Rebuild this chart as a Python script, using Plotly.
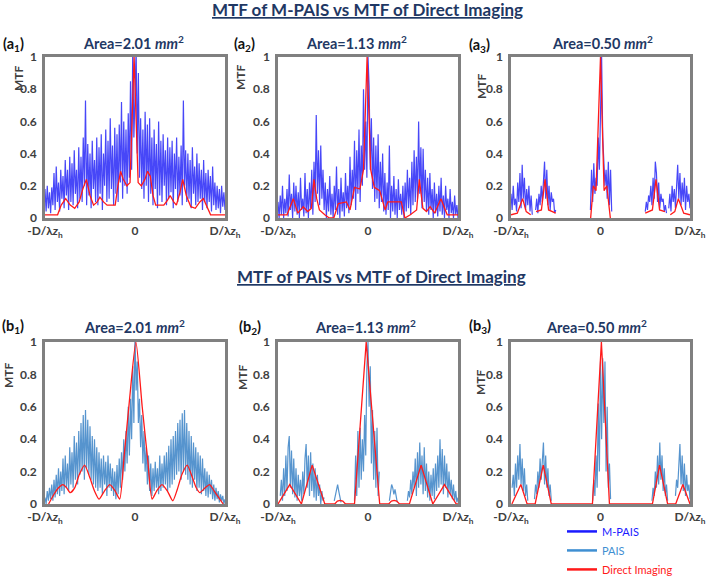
import numpy as np
import plotly.graph_objects as go

N = None

# common frequency grid for the noisy MTF curves (-D/λz_h ... D/λz_h normalised to -1..1)
freq = np.linspace(-1, 1, 161)

# ---------------- Row (a): M-PAIS ----------------
mpais_a1 = [
    0.18, 0.04, 0.2, 0.06, 0.16, 0.03, 0.19, 0.08,
    0.28, 0.05, 0.32, 0.1, 0.22, 0.04, 0.3, 0.12,
    0.26, 0.06, 0.36, 0.14, 0.3, 0.05, 0.38, 0.1,
    0.34, 0.08, 0.42, 0.15, 0.3, 0.06, 0.44, 0.12,
    0.38, 0.1, 0.5, 0.2, 0.73, 0.08, 0.46, 0.14,
    0.4, 0.06, 0.48, 0.18, 0.36, 0.1, 0.5, 0.08,
    0.44, 0.15, 0.52, 0.05, 0.4, 0.2, 0.55, 0.1,
    0.48, 0.12, 0.62, 0.18, 0.45, 0.08, 0.56, 0.15,
    0.52, 0.1, 0.58, 0.22, 0.72, 0.12, 0.6, 0.2,
    0.55, 0.15, 0.65, 0.25, 0.85, 0.3, 1.05, 0.5,
    0.75,
    1.05, 0.4, 0.9, 0.25, 0.62, 0.18, 0.55, 0.12,
    0.66, 0.2, 0.58, 0.1, 0.62, 0.15, 0.5, 0.08,
    0.55, 0.18, 0.46, 0.06, 0.6, 0.14, 0.48, 0.1,
    0.52, 0.2, 0.42, 0.08, 0.5, 0.12, 0.44, 0.16,
    0.48, 0.06, 0.4, 0.18, 0.5, 0.1, 0.38, 0.14,
    0.45, 0.08, 0.73, 0.2, 0.42, 0.1, 0.4, 0.12,
    0.36, 0.06, 0.44, 0.15, 0.32, 0.08, 0.4, 0.1,
    0.34, 0.12, 0.3, 0.05, 0.36, 0.1, 0.28, 0.06,
    0.3, 0.1, 0.26, 0.04, 0.32, 0.08, 0.22, 0.05,
    0.2, 0.06, 0.18, 0.03, 0.2, 0.07, 0.16, 0.05,
]

mpais_a2 = [
    0.1, 0.0, 0.14, 0.02, 0.2, 0.0, 0.12, 0.03,
    0.18, 0.01, 0.27, 0.05, 0.15, 0.0, 0.22, 0.04,
    0.2, 0.02, 0.16, 0.0, 0.25, 0.05, 0.12, 0.01,
    0.28, 0.03, 0.18, 0.0, 0.22, 0.06, 0.3, 0.02,
    0.35, 0.1, 0.64, 0.15, 0.42, 0.08, 0.45, 0.12,
    0.3, 0.05, 0.22, 0.0, 0.18, 0.04, 0.26, 0.02,
    0.15, 0.0, 0.2, 0.05, 0.32, 0.02, 0.18, 0.0,
    0.25, 0.04, 0.16, 0.01, 0.28, 0.06, 0.2, 0.03,
    0.38, 0.08, 0.3, 0.12, 0.48, 0.05, 0.42, 0.15,
    0.55, 0.1, 0.45, 0.2, 0.8, 0.3, 0.6, 0.25,
    1.0,
    0.82, 0.3, 0.62, 0.18, 0.5, 0.1, 0.45, 0.12,
    0.52, 0.06, 0.35, 0.1, 0.4, 0.04, 0.28, 0.02,
    0.22, 0.05, 0.45, 0.0, 0.2, 0.04, 0.26, 0.02,
    0.18, 0.0, 0.24, 0.05, 0.15, 0.02, 0.2, 0.0,
    0.22, 0.04, 0.3, 0.06, 0.25, 0.02, 0.35, 0.08,
    0.42, 0.1, 0.38, 0.12, 0.6, 0.15, 0.44, 0.06,
    0.43, 0.1, 0.3, 0.04, 0.25, 0.02, 0.28, 0.05,
    0.18, 0.0, 0.22, 0.03, 0.15, 0.01, 0.2, 0.04,
    0.25, 0.02, 0.14, 0.0, 0.2, 0.05, 0.12, 0.0,
    0.18, 0.03, 0.1, 0.0, 0.14, 0.02, 0.08, 0.0,
]

mpais_a3 = (
    [0.15, 0.05, 0.2, 0.08, 0.12, 0.04, 0.22, 0.1, 0.28, 0.06,
     0.33, 0.12, 0.25, 0.05, 0.18, 0.08, 0.2, 0.04, 0.14, 0.02]
    + [N] * 2
    + [0.05, 0.12, 0.03, 0.15, 0.08, 0.2, 0.1, 0.28, 0.35, 0.12,
       0.3, 0.08, 0.2, 0.05, 0.16, 0.1, 0.12, 0.03, 0.05]
    + [N] * 30
    + [0.05, 0.3, 0.1, 0.34, 0.15, 0.25, 0.2, 0.5, 0.3, 0.8,
       1.0, 0.5, 0.35, 0.2, 0.3, 0.12, 0.35, 0.08, 0.3, 0.04]
    + [N] * 29
    + [0.04, 0.1, 0.05, 0.14, 0.1, 0.2, 0.08, 0.25, 0.12, 0.35,
       0.28, 0.1, 0.22, 0.06, 0.15, 0.1, 0.12, 0.04, 0.08, 0.03]
    + [N] * 1
    + [0.06, 0.15, 0.04, 0.2, 0.1, 0.18, 0.06, 0.25, 0.33, 0.12,
       0.28, 0.08, 0.22, 0.1, 0.25, 0.05, 0.2, 0.1, 0.15, 0.06]
)

# ---------------- Row (b): PAIS ----------------
pais_b1 = [
    0.04, 0.0, 0.08, 0.02, 0.1, 0.03, 0.12, 0.02,
    0.15, 0.04, 0.18, 0.06, 0.22, 0.05, 0.2, 0.08,
    0.28, 0.06, 0.3, 0.1, 0.25, 0.08, 0.35, 0.12,
    0.32, 0.1, 0.42, 0.15, 0.38, 0.12, 0.45, 0.18,
    0.5, 0.2, 0.55, 0.15, 0.58, 0.22, 0.52, 0.18,
    0.48, 0.15, 0.42, 0.12, 0.4, 0.1, 0.35, 0.08,
    0.32, 0.1, 0.28, 0.06, 0.3, 0.12, 0.26, 0.05,
    0.3, 0.1, 0.25, 0.08, 0.22, 0.05, 0.2, 0.03,
    0.24, 0.06, 0.28, 0.1, 0.32, 0.15, 0.4, 0.2,
    0.45, 0.25, 0.6, 0.3, 0.65, 0.4, 0.85, 0.5,
    1.05,
    0.7, 0.88, 0.5, 0.65, 0.35, 0.55, 0.25, 0.45,
    0.2, 0.35, 0.12, 0.3, 0.08, 0.25, 0.05, 0.22,
    0.08, 0.26, 0.1, 0.22, 0.06, 0.3, 0.08, 0.25,
    0.1, 0.3, 0.12, 0.32, 0.08, 0.36, 0.1, 0.4,
    0.12, 0.42, 0.15, 0.45, 0.18, 0.5, 0.2, 0.52,
    0.15, 0.56, 0.2, 0.58, 0.18, 0.5, 0.15, 0.45,
    0.12, 0.42, 0.1, 0.38, 0.15, 0.35, 0.08, 0.32,
    0.1, 0.3, 0.06, 0.28, 0.08, 0.22, 0.05, 0.2,
    0.04, 0.18, 0.06, 0.15, 0.03, 0.12, 0.02, 0.1,
    0.03, 0.08, 0.01, 0.06, 0.02, 0.05, 0.0, 0.03,
]

pais_b2 = (
    [N] * 2
    + [0.05, 0.15, 0.02, 0.22, 0.05, 0.3, 0.08, 0.35, 0.42, 0.1,
       0.33, 0.06, 0.28, 0.04, 0.22, 0.02, 0.18, 0.05, 0.15, 0.02,
       0.2, 0.06, 0.28, 0.37, 0.1, 0.3, 0.05, 0.32, 0.08, 0.25,
       0.04, 0.22, 0.02, 0.18, 0.05, 0.12, 0.0, 0.08, 0.02, 0.04]
    + [N] * 8
    + [0.02, 0.06, 0.1, 0.12, 0.08, 0.05, 0.01]
    + [N] * 11
    + [0.02, 0.3, 0.05, 0.45, 0.1, 0.47, 0.15, 0.4, 0.2, 0.55,
       0.3, 0.85, 1.0, 0.6, 0.85, 0.25, 0.58, 0.15, 0.45, 0.1,
       0.47, 0.05, 0.2]
    + [N] * 8
    + [0.02, 0.08, 0.12, 0.1, 0.06, 0.09, 0.04, 0.01]
    + [N] * 8
    + [0.02, 0.08, 0.04, 0.15, 0.06, 0.2, 0.1, 0.28, 0.05, 0.32,
       0.1, 0.38, 0.12, 0.3, 0.06, 0.35, 0.08, 0.25, 0.04, 0.2,
       0.02, 0.18, 0.05, 0.22, 0.03, 0.25, 0.08, 0.3, 0.1, 0.4,
       0.12, 0.34, 0.06, 0.3, 0.1, 0.25, 0.04, 0.2, 0.06, 0.15,
       0.03, 0.12, 0.02, 0.08, 0.01, 0.04]
)

pais_b3 = (
    [N] * 1
    + [0.1, 0.18, 0.05, 0.25, 0.1, 0.3, 0.15, 0.37, 0.12, 0.28,
       0.08, 0.22, 0.05, 0.12, 0.02]
    + [N] * 5
    + [0.03, 0.12, 0.06, 0.2, 0.1, 0.28, 0.15, 0.32, 0.38, 0.12,
       0.3, 0.1, 0.22, 0.05, 0.12, 0.02]
    + [N] * 36
    + [0.02, 0.15, 0.05, 0.3, 0.1, 0.62, 0.2, 0.88, 0.4, 0.9,
       0.5, 0.88, 0.2, 0.6, 0.1, 0.25, 0.03]
    + [N] * 36
    + [0.02, 0.1, 0.05, 0.2, 0.1, 0.3, 0.12, 0.38, 0.15, 0.3,
       0.08, 0.22, 0.05, 0.12, 0.02]
    + [N] * 6
    + [0.05, 0.15, 0.1, 0.25, 0.37, 0.12, 0.3, 0.08, 0.25, 0.05,
       0.18, 0.08, 0.12, 0.03]
)

# ---------------- Direct imaging (red) ----------------
di_a1_x = [-1, -0.86, -0.82, -0.77, -0.72, -0.67, -0.62, -0.58, -0.54, -0.5,
           -0.46, -0.42, -0.39, -0.35, -0.31, -0.22, -0.19, -0.16, -0.13, -0.09,
           -0.055, -0.01, 0.035, 0.07, 0.11, 0.14, 0.17, 0.2, 0.23, 0.32,
           0.36, 0.39, 0.43, 0.46, 0.5, 0.53, 0.57, 0.62, 0.67, 0.72,
           0.76, 0.8, 0.84, 1]
di_a1_y = [0.02, 0.02, 0.08, 0.12, 0.08, 0.06, 0.1, 0.18, 0.24, 0.14,
           0.08, 0.1, 0.13, 0.1, 0.08, 0.08, 0.2, 0.29, 0.24, 0.2,
           0.22, 1.0, 0.22, 0.2, 0.24, 0.29, 0.26, 0.14, 0.08, 0.08,
           0.11, 0.14, 0.1, 0.08, 0.16, 0.24, 0.14, 0.07, 0.06, 0.1,
           0.12, 0.07, 0.02, 0.02]

di_a2_x = [-1, -0.9, -0.83, -0.78, -0.72, -0.67, -0.63, -0.6, -0.57, -0.54,
           -0.48, -0.43, -0.38, -0.33, -0.24, -0.2, -0.15, -0.09, -0.05, -0.01,
           0.03, 0.07, 0.13, 0.19, 0.22, 0.37, 0.41, 0.47, 0.54, 0.57,
           0.61, 0.65, 0.69, 0.74, 0.81, 0.88, 1]
di_a2_y = [0.02, 0.02, 0.12, 0.03, 0.07, 0.04, 0.06, 0.24, 0.12, 0.05,
           0.02, 0.0, 0.0, 0.09, 0.1, 0.05, 0.19, 0.18, 0.3, 1.0,
           0.3, 0.19, 0.17, 0.05, 0.1, 0.1, 0.0, 0.02, 0.05, 0.24,
           0.06, 0.04, 0.07, 0.03, 0.12, 0.02, 0.02]

di_a3_x = [-1, -0.93, -0.87, -0.83, -0.78, -0.745, -0.72, -0.66, -0.62, -0.58, -0.5,
           -0.3, -0.11, -0.08, -0.05, 0.0, 0.04, 0.07, 0.11,
           0.3, 0.5, 0.58, 0.62, 0.66, 0.72, 0.745, 0.78, 0.83, 0.87, 0.93, 1]
di_a3_y = [0.02, 0.03, 0.12, 0.04, 0.02, N, 0.04, 0.05, 0.24, 0.05, 0.03,
           N, 0.0, 0.2, 0.17, 1.0, 0.17, 0.2, 0.0,
           N, 0.03, 0.05, 0.24, 0.05, 0.04, N, 0.02, 0.04, 0.12, 0.03, 0.02]

di_b1_x = [-0.96, -0.9, -0.85, -0.8, -0.76, -0.72, -0.67, -0.62, -0.56, -0.5,
           -0.45, -0.4, -0.34, -0.28, -0.22, -0.17, -0.12, -0.06, 0.01, 0.08,
           0.14, 0.19, 0.24, 0.3, 0.36, 0.42, 0.47, 0.52, 0.58, 0.64,
           0.68, 0.72, 0.78, 0.83, 0.88, 0.93, 0.98]
di_b1_y = [0.0, 0.06, 0.1, 0.12, 0.1, 0.07, 0.1, 0.18, 0.24, 0.16,
           0.08, 0.03, 0.08, 0.12, 0.08, 0.03, 0.3, 0.65, 1.0, 0.6,
           0.28, 0.03, 0.08, 0.12, 0.08, 0.02, 0.09, 0.18, 0.24, 0.16,
           0.1, 0.07, 0.1, 0.12, 0.08, 0.04, 0.0]

di_b2_x = [-1, -0.87, -0.74, -0.62, -0.48, -0.37, -0.34, -0.31, -0.28, -0.25,
           -0.15, -0.02, 0.13, 0.23, 0.26, 0.29, 0.32, 0.35, 0.46, 0.59,
           0.72, 0.85, 0.98, 1]
di_b2_y = [0, 0.12, 0, 0.24, 0, 0, 0.018, 0.022, 0.018, 0,
           0, 1.0, 0, 0, 0.018, 0.022, 0.018, 0, 0, 0.24,
           0, 0.12, 0, 0]

di_b3_x = [-0.99, -0.89, -0.82, -0.73, -0.64, -0.55, -0.09, 0.01, 0.1,
           0.58, 0.66, 0.75, 0.84, 0.92, 1.0]
di_b3_y = [0, 0.12, 0, 0, 0.24, 0, 0, 1.0, 0, 0, 0.24, 0, 0, 0.12, 0]

# ---------------- Text ----------------
titles = ["MTF of M-PAIS vs MTF of Direct Imaging", "MTF of PAIS vs MTF of Direct Imaging"]
areas = ["2.01", "1.13", "0.50"]
panel_labels = ["(a<sub>1</sub>)", "(a<sub>2</sub>)", "(a<sub>3</sub>)",
                "(b<sub>1</sub>)", "(b<sub>2</sub>)", "(b<sub>3</sub>)"]
y_ticks = [0, 0.2, 0.4, 0.6, 0.8, 1]
y_ticktext = ["0", "0.2", "0.4", "0.6", "0.8", "1"]
x_ticks = [-1, 0, 1]
x_ticktext = ["-D/λ<i>z</i><sub>h</sub>", "0", "D/λ<i>z</i><sub>h</sub>"]
legend_names = ["M-PAIS", "PAIS", "Direct Imaging"]

# ---------------- Styling ----------------
W, H = 708, 577
FONT = "Lato"
NAVY = "#1f3864"
C_MPAIS = "rgba(0,0,245,0.72)"
C_PAIS = "rgba(30,112,190,0.75)"
C_RED = "#ff1a1a"

col_px = [(45, 225), (278, 458), (511, 690)]
row_px = [(57, 218), (342, 504)]

def px_x(p):
    return p / W

def px_y(p):
    return 1 - p / H

fig = go.Figure()

noisy = [mpais_a1, mpais_a2, mpais_a3, pais_b1, pais_b2, pais_b3]
reds = [(di_a1_x, di_a1_y), (di_a2_x, di_a2_y), (di_a3_x, di_a3_y),
        (di_b1_x, di_b1_y), (di_b2_x, di_b2_y), (di_b3_x, di_b3_y)]

layout_axes = {}
for k in range(6):
    r, c = divmod(k, 3)
    ax = "" if k == 0 else str(k + 1)
    color = C_MPAIS if r == 0 else C_PAIS
    fig.add_trace(go.Scatter(x=freq, y=noisy[k], mode="lines",
                             line=dict(color=color, width=1.2),
                             connectgaps=False, showlegend=False,
                             hoverinfo="skip",
                             xaxis="x" + ax, yaxis="y" + ax))
    rx, ry = reds[k]
    fig.add_trace(go.Scatter(x=rx, y=ry, mode="lines",
                             line=dict(color=C_RED, width=1.3,
                                       shape="spline" if k == 3 else "linear",
                                       smoothing=0.6),
                             connectgaps=False, showlegend=False,
                             hoverinfo="skip",
                             xaxis="x" + ax, yaxis="y" + ax))
    x0, x1 = col_px[c]
    y0, y1 = row_px[r]
    axis_common = dict(showline=True, linecolor="#808080", linewidth=2.5,
                       mirror=True, showgrid=False, zeroline=False,
                       ticks="", fixedrange=True, automargin=False)
    layout_axes["xaxis" + ax] = dict(
        domain=[px_x(x0), px_x(x1)], range=[-1, 1], anchor="y" + ax,
        tickmode="array", tickvals=x_ticks, ticktext=x_ticktext,
        tickfont=dict(family=FONT, size=12, color="#404040", weight="bold"),
        **axis_common)
    layout_axes["yaxis" + ax] = dict(
        domain=[px_y(y1), px_y(y0)], range=[0, 1], anchor="x" + ax,
        tickmode="array", tickvals=y_ticks, ticktext=y_ticktext,
        ticklabelstandoff=3,
        tickfont=dict(family=FONT, size=12, color="#404040", weight="bold"),
        **axis_common)

# legend-only traces (thicker sample lines)
for name, col in zip(legend_names, ["#1a1aff", "#3f8fd2", "#ff1a1a"]):
    fig.add_trace(go.Scatter(x=[N], y=[N], mode="lines",
                             line=dict(color=col, width=2.5),
                             name=f"<span style='color:{col}'>{name}</span>",
                             xaxis="x6", yaxis="y6"))

annotations = []
# main titles
for t, (xp, yp) in zip(titles, [(210, 10), (235, 277)]):
    annotations.append(dict(text=t, x=px_x(xp), y=px_y(yp), xref="paper", yref="paper",
                            xanchor="left", yanchor="middle", showarrow=False,
                            font=dict(family=FONT, size=17, color=NAVY, weight="bold",
                                      lineposition="under")))

area_pos = [(133, 42), (356, 42), (602, 42), (134, 326), (366, 326), (596, 326)]
label_pos = [(1, 44), (232, 44), (467, 45), (0, 326), (237, 327), (467, 326)]
mtf_pos = [(19, 78), (241, 77), (482, 86), (8, 375), (242, 377), (480, 382)]
for k in range(6):
    xa, ya = area_pos[k]
    annotations.append(dict(text=f"Area={areas[k % 3]} <i>mm</i><sup>2</sup>",
                            x=px_x(xa), y=px_y(ya), xref="paper", yref="paper",
                            xanchor="center", yanchor="middle", showarrow=False,
                            font=dict(family=FONT, size=14.5, color=NAVY, weight="bold")))
    xl, yl = label_pos[k]
    annotations.append(dict(text=panel_labels[k], x=px_x(xl), y=px_y(yl),
                            xref="paper", yref="paper", xanchor="left", yanchor="middle",
                            showarrow=False,
                            font=dict(family=FONT, size=14.5, color="#111111", weight="bold")))
    xm, ym = mtf_pos[k]
    annotations.append(dict(text="MTF", x=px_x(xm), y=px_y(ym), xref="paper", yref="paper",
                            xanchor="center", yanchor="middle", showarrow=False,
                            textangle=-90,
                            font=dict(family=FONT, size=12, color="#404040", weight="bold")))

fig.update_layout(
    width=W, height=H,
    margin=dict(l=0, r=0, t=0, b=0, autoexpand=False),
    paper_bgcolor="white", plot_bgcolor="white",
    font=dict(family=FONT),
    annotations=annotations,
    showlegend=True,
    legend=dict(x=px_x(562), y=-0.012, xanchor="left", yanchor="bottom",
                bgcolor="rgba(0,0,0,0)", font=dict(family=FONT, size=11),
                tracegroupgap=0, itemwidth=30),
    **layout_axes,
)

fig.write_html("out.html", config={"displayModeBar": False},
               post_script="document.body.style.margin='0px';")
